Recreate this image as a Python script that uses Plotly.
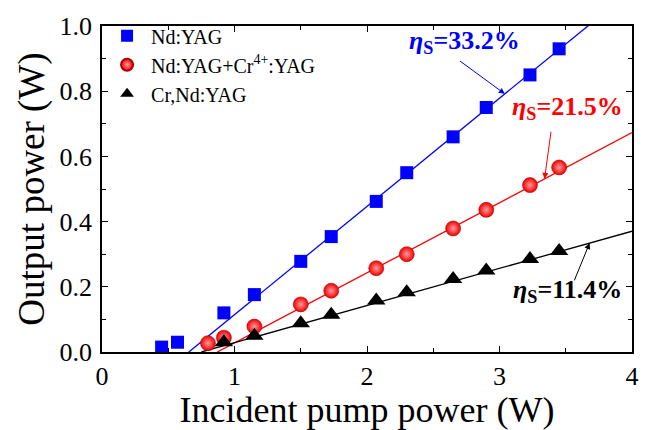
import numpy as np
import plotly.graph_objects as go

# Data
x_ndyag = [0.45, 0.57, 0.92, 1.15, 1.50, 1.73, 2.07, 2.30, 2.65, 2.90, 3.23, 3.45]
y_ndyag = [0.015, 0.03, 0.12, 0.176, 0.278, 0.354, 0.462, 0.55, 0.66, 0.75, 0.85, 0.93]

x_combo = [0.80, 0.92, 1.15, 1.50, 1.73, 2.07, 2.30, 2.65, 2.90, 3.23, 3.45]
y_combo = [0.027, 0.044, 0.078, 0.146, 0.188, 0.257, 0.30, 0.379, 0.436, 0.512, 0.566]

x_crnd = [0.92, 1.15, 1.50, 1.73, 2.07, 2.30, 2.65, 2.90, 3.23, 3.45]
y_crnd = [0.03, 0.05, 0.088, 0.114, 0.158, 0.183, 0.224, 0.25, 0.285, 0.31]

# Linear fits: slope efficiency and threshold
slopes = [0.332, 0.215, 0.114]
thresholds = [0.655, 0.87, 0.75]
fit_xmax = 4.0

names = ["Nd:YAG", "Nd:YAG+Cr<sup>4+</sup>:YAG", "Cr,Nd:YAG"]
colors = ["#0000ff", "#ff0000", "#000000"]
eff_labels = ["33.2%", "21.5%", "11.4%"]

FONT = "Liberation Serif, Times New Roman, serif"

fig = go.Figure()

# fit lines
for s, t, c in zip(slopes, thresholds, colors):
    fx = np.array([t, fit_xmax])
    fy = s * (fx - t)
    fig.add_trace(go.Scatter(x=fx, y=fy, mode="lines", line=dict(color=c, width=1.3),
                             showlegend=False, hoverinfo="skip"))

fig.add_trace(go.Scatter(x=x_ndyag, y=y_ndyag, mode="markers", name=names[0],
                         marker=dict(symbol="square", size=13, color=colors[0])))
fig.add_trace(go.Scatter(x=x_combo, y=y_combo, mode="markers", name=names[1],
                         marker=dict(symbol="circle", size=15, color="#f00000",
                                     gradient=dict(type="radial", color="#ff9a9a"),
                                     line=dict(color="#b00000", width=0.6))))
fig.add_trace(go.Scatter(x=x_crnd, y=y_crnd, mode="markers", name=names[2],
                         marker=dict(symbol="triangle-up", size=16, color=colors[2])))

# efficiency labels
label_pos = [(2.30, 0.952), (3.08, 0.748), (3.09, 0.186)]
for (lx, ly), lab, c in zip(label_pos, eff_labels, colors):
    fig.add_annotation(x=lx, y=ly, xref="x", yref="y", xanchor="left", yanchor="middle",
                       text="<b><i>η</i><sub>S</sub>=" + lab + "</b>", showarrow=False,
                       font=dict(family=FONT, size=26, color=c))

# arrows: head on fit line at given x, tail position
arrow_head_x = [3.04, 3.34, 3.68]
arrow_tail = [(2.69, 0.896), (3.39, 0.68), (3.56, 0.215)]
for hx, (tx, ty), s, t, c in zip(arrow_head_x, arrow_tail, slopes, thresholds, colors):
    fig.add_annotation(x=hx, y=s * (hx - t), ax=tx, ay=ty, xref="x", yref="y",
                       axref="x", ayref="y", text="", showarrow=True,
                       arrowhead=2, arrowsize=1.2, arrowwidth=1, arrowcolor=c)

axis_common = dict(showline=True, linecolor="black", linewidth=1.5, mirror="allticks",
                   ticks="inside", ticklen=6, tickwidth=1.2, tickcolor="black",
                   showgrid=False, zeroline=False,
                   tickfont=dict(family=FONT, size=26, color="black"))

fig.update_xaxes(range=[0, 4], dtick=1, tick0=0,
                 minor=dict(dtick=0.5, ticks="inside", ticklen=4, tickcolor="black", tickwidth=1.2),
                 title=dict(text="Incident pump power (W)", font=dict(family=FONT, size=36, color="black"),
                            standoff=2),
                 ticklabelstandoff=0,
                 **axis_common)
fig.update_yaxes(range=[0, 1.0], dtick=0.2, tick0=0, tickformat=".1f",
                 minor=dict(dtick=0.1, ticks="inside", ticklen=4, tickcolor="black", tickwidth=1.2),
                 title=dict(text="Output power (W)", font=dict(family=FONT, size=37, color="black"),
                            standoff=4),
                 ticklabelstandoff=3,
                 **axis_common)

fig.update_layout(
    width=651, height=430,
    margin=dict(l=102, r=15, t=17, b=78),
    paper_bgcolor="white", plot_bgcolor="white",
    font=dict(family=FONT, color="black"),
    legend=dict(x=0.002, y=1.03, xanchor="left", yanchor="top",
                bgcolor="rgba(0,0,0,0)", font=dict(family=FONT, size=20, color="black"),
                tracegroupgap=0, itemsizing="constant", itemwidth=38),
)

fig.write_html("out.html")
